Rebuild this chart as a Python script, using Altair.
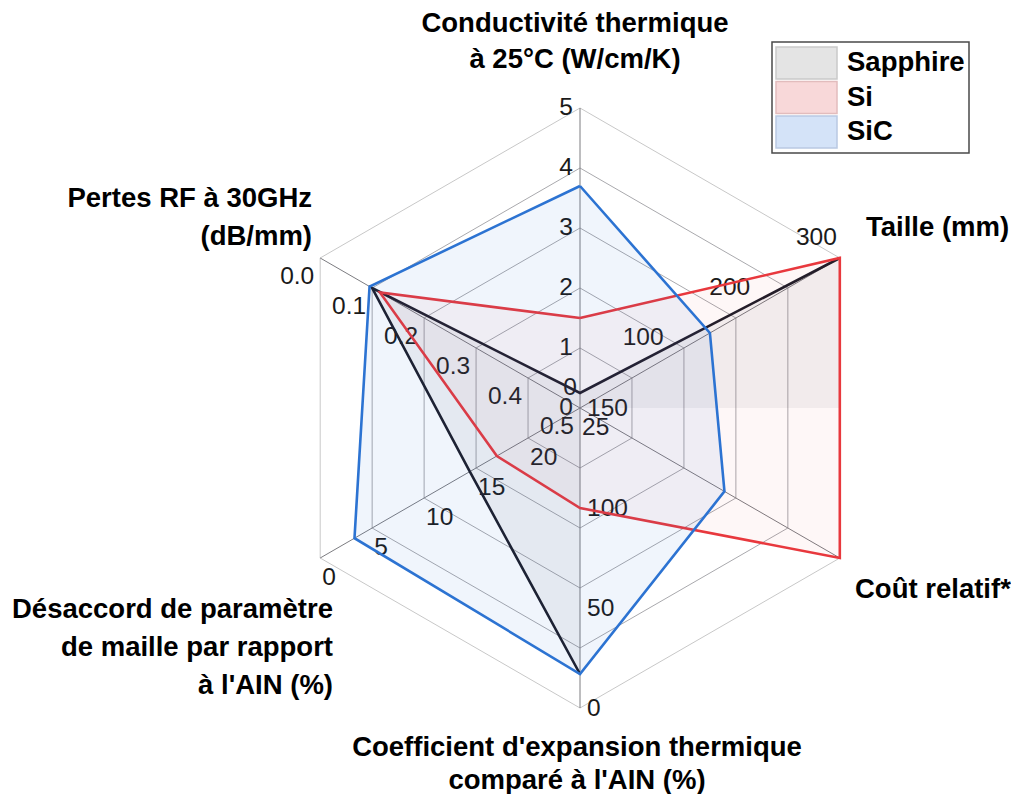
import altair as alt
import pandas as pd
import numpy as np

# ---------------- data ----------------
axis_titles = [
    "Conductivité thermique\nà 25°C (W/cm/K)",
    "Taille (mm)",
    "Coût relatif*",
    "Coefficient d'expansion thermique\ncomparé à l'AIN (%)",
    "Désaccord de paramètre\nde maille par rapport\nà l'AIN (%)",
    "Pertes RF à 30GHz\n(dB/mm)",
]
axis_angles = [90, 30, -30, -90, -150, 150]      # degrees
axis_centre_value = [0, 0, 0, 150, 25, 0.5]       # value at the centre
axis_rim_value = [5, 300, 1, 0, 0, 0.0]           # value at the outer ring
axis_ticks = [
    [0, 1, 2, 3, 4, 5],
    [0, 100, 200, 300],
    [],
    [150, 100, 50, 0],
    [25, 20, 15, 10, 5, 0],
    [0.5, 0.4, 0.3, 0.2, 0.1, 0.0],
]
axis_tick_format = ["{:g}", "{:g}", "{:g}", "{:g}", "{:g}", "{:.1f}"]

series = ["Sapphire", "Si", "SiC"]
sapphire_values = [0.25, 300, None, 17, 14.4, 0.10]
si_values = [1.5, 300, 1.0, 100, 17, 0.115]
sic_values = [3.7, 150, 0.556, 17, 3.3, 0.095]
series_values = [sapphire_values, si_values, sic_values]

# ---------------- style / layout ----------------
R = 300
line_colors = ["#1c1c28", "#e8383d", "#2c73d2"]
fill_colors = ["#505068", "#e8414a", "#2b6fd6"]
fill_opacity = [0.07, 0.045, 0.07]
swatch_colors = ["#e4e4e4", "#f8d8d9", "#d4e3f8"]
swatch_strokes = ["#c9c9c9", "#e2bcbd", "#b9c9e2"]
FONT = "Liberation Sans"
TITLE_SIZE = 27.5
TICK_SIZE = 24.5

W, H = 1003, 786
CX, CY = 580, 408  # page position of the centre


def X(px):
    return px - CX


def Y(py):
    return CY - py


xs = alt.Scale(domain=[-(CX - 8), W - (CX - 8)], nice=False, zero=False)
ys = alt.Scale(domain=[-(H - (CY - 8)), CY - 8], nice=False, zero=False)


def enc(xf="x", yf="y"):
    return dict(x=alt.X(f"{xf}:Q", scale=xs, axis=None),
                y=alt.Y(f"{yf}:Q", scale=ys, axis=None))


def polar(ax, v):
    r = R * (v - axis_centre_value[ax]) / (axis_rim_value[ax] - axis_centre_value[ax])
    a = np.radians(axis_angles[ax])
    return r * np.cos(a), r * np.sin(a)


layers = []

# grid rings
rows = []
for k in range(1, 6):
    for j in range(7):
        a = np.radians(axis_angles[j % 6])
        rows.append(dict(ring=k, o=j, x=R * k / 5 * np.cos(a), y=R * k / 5 * np.sin(a)))
rings = pd.DataFrame(rows)
layers.append(alt.Chart(rings[rings.ring < 5]).mark_line(color="#a9a9ad", strokeWidth=1).encode(
    **enc(), detail="ring:N", order="o:Q"))
layers.append(alt.Chart(rings[rings.ring == 5]).mark_line(color="#c8c8c8", strokeWidth=1).encode(
    **enc(), detail="ring:N", order="o:Q"))

# spokes
spokes = pd.DataFrame([dict(x0=0.0, y0=0.0,
                            x1=R * np.cos(np.radians(a)), y1=R * np.sin(np.radians(a)))
                       for a in axis_angles])
layers.append(alt.Chart(spokes).mark_rule(color="#7c7c80", strokeWidth=1).encode(
    x=alt.X("x0:Q", scale=xs, axis=None), y=alt.Y("y0:Q", scale=ys, axis=None),
    x2="x1:Q", y2="y1:Q"))

# tick labels
tick_style = {0: ("right", -7, 0), 1: ("right", -3, -20), 3: ("left", 7, 1),
              4: ("left", 2, 20), 5: ("right", -6, 19)}
for ax, (al, dx, dy) in tick_style.items():
    trs = []
    for t in axis_ticks[ax]:
        x, y = polar(ax, t)
        trs.append(dict(x=x, y=y, label=axis_tick_format[ax].format(t)))
    layers.append(alt.Chart(pd.DataFrame(trs)).mark_text(
        align=al, baseline="middle", dx=dx, dy=dy, font=FONT, fontSize=TICK_SIZE, color="#1a1a1a"
    ).encode(**enc(), text="label:N"))

# series
for s, vals, lc, fc, fo in zip(series, series_values, line_colors, fill_colors, fill_opacity):
    n = len(vals)
    missing = [i for i, v in enumerate(vals) if v is None]
    pts = {i: polar(i, v) for i, v in enumerate(vals) if v is not None}
    if missing:
        m = missing[0]
        seq = [(m + 1 + k) % n for k in range(n - 1)]
        line_pts = [pts[i] for i in seq]
        # fill drops to the baseline where the value is missing
        last = pts[seq[-1]]
        fill_pts = line_pts + [(last[0], 0.0), (0.0, 0.0)]
    else:
        line_pts = [pts[i] for i in range(n)] + [pts[0]]
        fill_pts = [pts[i] for i in range(n)]
    fdf = pd.DataFrame([dict(o=i, x=p[0], y=p[1]) for i, p in enumerate(fill_pts)])
    ldf = pd.DataFrame([dict(o=i, x=p[0], y=p[1]) for i, p in enumerate(line_pts)])
    layers.append(alt.Chart(fdf).mark_line(
        fill=fc, fillOpacity=fo, strokeOpacity=0, strokeWidth=0).encode(**enc(), order="o:Q"))
    layers.append(alt.Chart(ldf).mark_line(
        color=lc, strokeWidth=2.6, strokeJoin="miter").encode(**enc(), order="o:Q"))

# axis titles (x, y of the first line's centre, alignment, line height)
title_layout = [
    (575, 24, "center", 36),
    (866, 228, "left", 36),
    (855, 590, "left", 36),
    (577, 748, "center", 33),
    (333, 610, "right", 38),
    (312, 199, "right", 38),
]
for t, (px, py, al, lh) in zip(axis_titles, title_layout):
    df = pd.DataFrame([dict(x=X(px), y=Y(py), label=t)])
    layers.append(alt.Chart(df).mark_text(
        align=al, baseline="middle", lineBreak="\n", lineHeight=lh,
        font=FONT, fontSize=TITLE_SIZE, fontWeight="bold", color="#000000"
    ).encode(**enc(), text="label:N"))

# legend
box = pd.DataFrame([dict(x=X(772), y=Y(42), x2=X(969), y2=Y(153))])
layers.append(alt.Chart(box).mark_rect(fill="white", stroke="#4a4a4a", strokeWidth=1.5).encode(
    **enc(), x2="x2:Q", y2="y2:Q"))
leg = pd.DataFrame([dict(name=s, i=i, x=X(776), x2=X(837), y=Y(47 + 34.5 * i), y2=Y(79 + 34.5 * i),
                         tx=X(847), ty=Y(63 + 34.5 * i))
                    for i, s in enumerate(series)])
layers.append(alt.Chart(leg).mark_rect(strokeWidth=1.5).encode(
    **enc(), x2="x2:Q", y2="y2:Q",
    fill=alt.Fill("name:N", scale=alt.Scale(domain=series, range=swatch_colors), legend=None),
    stroke=alt.Stroke("name:N", scale=alt.Scale(domain=series, range=swatch_strokes), legend=None)))
layers.append(alt.Chart(leg).mark_text(
    align="left", baseline="middle", font=FONT, fontSize=TITLE_SIZE, fontWeight="bold", color="#000000"
).encode(**enc("tx", "ty"), text="name:N"))

chart = alt.layer(*layers).properties(
    width=W, height=H, padding=0, autosize=alt.AutoSizeParams(type="none")
).configure_view(stroke=None).resolve_scale(fill="independent", stroke="independent")

chart.save("out.html", embed_options={"renderer": "svg", "actions": False})
